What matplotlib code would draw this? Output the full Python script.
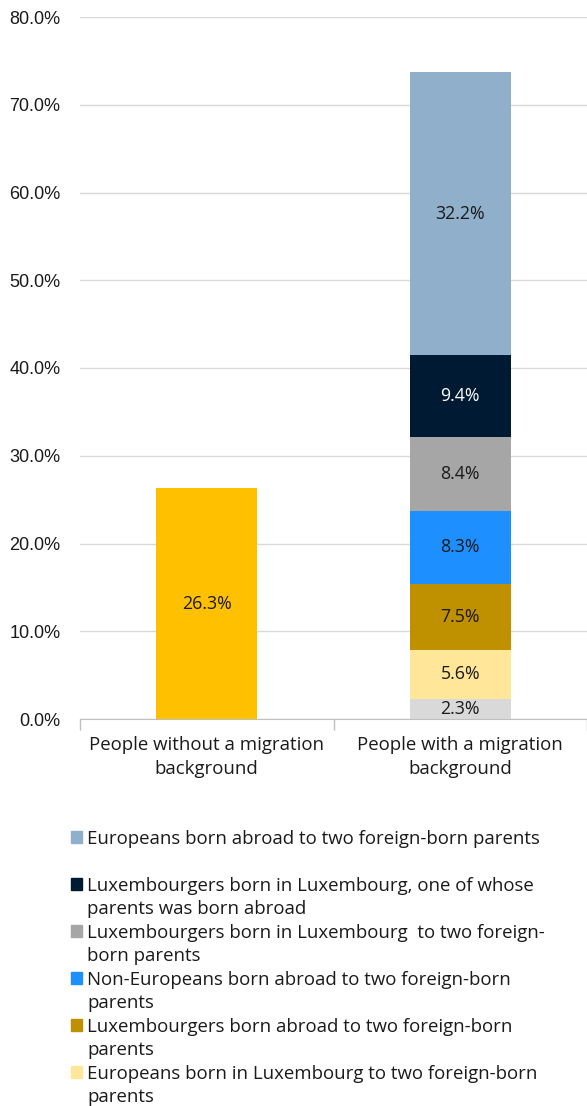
import numpy as np
import matplotlib.pyplot as plt
from matplotlib.patches import Rectangle

categories = ['People without a migration\nbackground', 'People with a migration\nbackground']

# stacked series, bottom to top
series_names = [
    'People without a migration background',
    'Non-Europeans born in Luxembourg to two foreign-born\nparents',
    'Europeans born in Luxembourg to two foreign-born\nparents',
    'Luxembourgers born abroad to two foreign-born\nparents',
    'Non-Europeans born abroad to two foreign-born\nparents',
    'Luxembourgers born in Luxembourg  to two foreign-\nborn parents',
    'Luxembourgers born in Luxembourg, one of whose\nparents was born abroad',
    'Europeans born abroad to two foreign-born parents',
]
series_values = [
    [26.3, 0.0],
    [0.0, 2.3],
    [0.0, 5.6],
    [0.0, 7.5],
    [0.0, 8.3],
    [0.0, 8.4],
    [0.0, 9.4],
    [0.0, 32.2],
]
series_colors = ['#FFC000', '#D9D9D9', '#FFE699', '#BF9000', '#1E8FFF',
                 '#A6A6A6', '#001A33', '#8FAFCB']
value_colors = ['#1a1a1a'] * 6 + ['white', '#1a1a1a']

yticks = [0, 10, 20, 30, 40, 50, 60, 70, 80]

W, H = 587, 1106
fig = plt.figure(figsize=(W / 100, H / 100), dpi=100)
ax = fig.add_axes([80 / W, 1 - 719 / H, 507 / W, (719 - 17) / H])

text_font = 'Open Sans'
dark = '#1a1a1a'
fs = 13.4

x = np.arange(len(categories))
bottom = np.zeros(len(categories))
for name, vals, col, tcol in zip(series_names, series_values, series_colors, value_colors):
    vals = np.array(vals)
    bars = ax.bar(x, vals, 0.4, bottom=bottom, color=col, label=name, zorder=2)
    labels = [f'{v:.1f}%' if v > 0 else '' for v in vals]
    ax.bar_label(bars, labels=labels, label_type='center', color=tcol,
                 fontsize=12.8, family=text_font)
    bottom += vals

ax.set_xlim(-0.5, 1.5)
ax.set_ylim(0, 80)
ax.set_yticks(yticks)
ax.set_yticklabels([f'{v:.1f}%' for v in yticks], family='Liberation Sans',
                   fontsize=13, color=dark)
ax.tick_params(axis='y', length=0, pad=14)
ax.grid(axis='y', color='#D9D9D9', linewidth=1, zorder=0)

# category boundaries as tick marks, names on minor ticks
ax.set_xticks([-0.5, 0.5, 1.5])
ax.set_xticklabels([])
ax.tick_params(axis='x', which='major', length=8, color='#BFBFBF', width=1)
ax.set_xticks(x, minor=True)
ax.set_xticklabels(categories, minor=True, family=text_font, fontsize=fs,
                   color=dark, linespacing=1.42)
ax.tick_params(axis='x', which='minor', length=0, pad=12)

for s in ['left', 'right', 'top']:
    ax.spines[s].set_visible(False)
ax.spines['bottom'].set_color('#BFBFBF')

# legend drawn by hand so markers line up with the first text line (Excel style)
pitch = 47
for i, k in enumerate(range(len(series_names) - 1, 0, -1)):
    cy = 837 + i * pitch
    if cy > H:
        continue  # last entry falls below the canvas in the original
    fig.patches.append(Rectangle((71 / W, 1 - (cy + 6) / H), 11 / W, 12 / H,
                                 transform=fig.transFigure, color=series_colors[k]))
    fig.text(87 / W, 1 - (cy - 7) / H, series_names[k], family=text_font,
             fontsize=fs, color=dark, va='top', ha='left', linespacing=1.38)

fig.savefig('out.png', dpi=100)
